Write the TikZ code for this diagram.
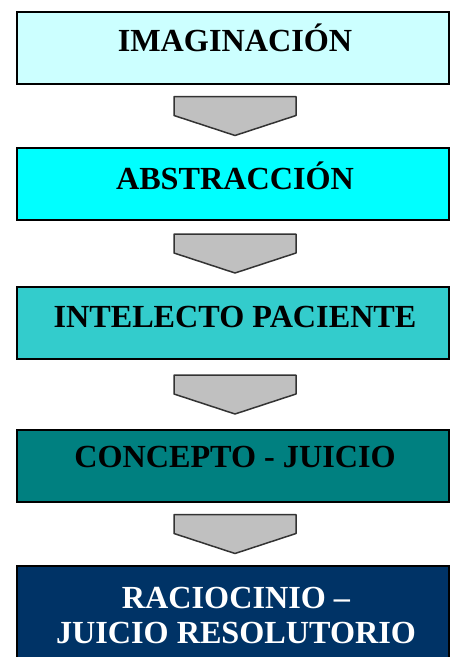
\documentclass[tikz,border=0pt]{standalone}
\usepackage{fontspec}
\setmainfont{Liberation Serif}
\usetikzlibrary{calc}
\definecolor{cimag}{HTML}{CCFFFF}
\definecolor{cabst}{HTML}{00FFFF}
\definecolor{cintel}{HTML}{33CCCC}
\definecolor{cconc}{HTML}{008080}
\definecolor{craci}{HTML}{003366}
\definecolor{arrowgray}{HTML}{C0C0C0}
\definecolor{arrowedge}{HTML}{333333}
\begin{document}
\begin{tikzpicture}[x=1pt,y=-1pt,
  stage/.style={draw=black, line width=1.3pt, minimum width=432pt, minimum height=72pt,
    anchor=north west, inner sep=0pt, outer sep=0pt},
  lbl/.style={font=\fontsize{32.2}{36}\selectfont\bfseries, anchor=base, inner sep=0pt},
  blockarrow/.style={fill=arrowgray, draw=arrowedge, line width=1.5pt, line join=round},
  downarrow/.pic={\draw[blockarrow] (-59,-19.5) -- (63,-19.5) -- (63,-0.5) -- (2,19.5) -- (-59,-0.5) -- cycle;}]
\useasboundingbox (0,0) rectangle (450,657);
\clip (0,0) rectangle (450,657);
\fill[white] (0,0) rectangle (450,657);
\node[stage, fill=cimag] (b1) at (17,12) {};
\node[stage, fill=cabst] (b2) at (17,148) {};
\node[stage, fill=cintel] (b3) at (17,287) {};
\node[stage, fill=cconc] (b4) at (17,430) {};
\node[stage, fill=craci, minimum height=120pt] (b5) at (17,566) {};
\node[lbl] (t1) at (235,51) {IMAGINACIÓN};
\node[lbl] (t2) at (235,189) {ABSTRACCIÓN};
\node[lbl] (t3) at (235,327) {INTELECTO PACIENTE};
\node[lbl] (t4) at (235,467) {CONCEPTO - JUICIO};
\node[lbl, text=white] (t5a) at (236,608) {RACIOCINIO –};
\node[lbl, text=white] (t5b) at (236,643) {JUICIO RESOLUTORIO};
\coordinate (m1) at ($(b1.south)!0.5!(b2.north)$);
\coordinate (m2) at ($(b2.south)!0.5!(b3.north)$);
\coordinate (m3) at ($(b3.south)!0.5!(b4.north)$);
\coordinate (m4) at ($(b4.south)!0.5!(b5.north)$);
\pic at (m1) {downarrow};
\pic at (m2) {downarrow};
\pic at (m3) {downarrow};
\pic at (m4) {downarrow};
\end{tikzpicture}
\end{document}
